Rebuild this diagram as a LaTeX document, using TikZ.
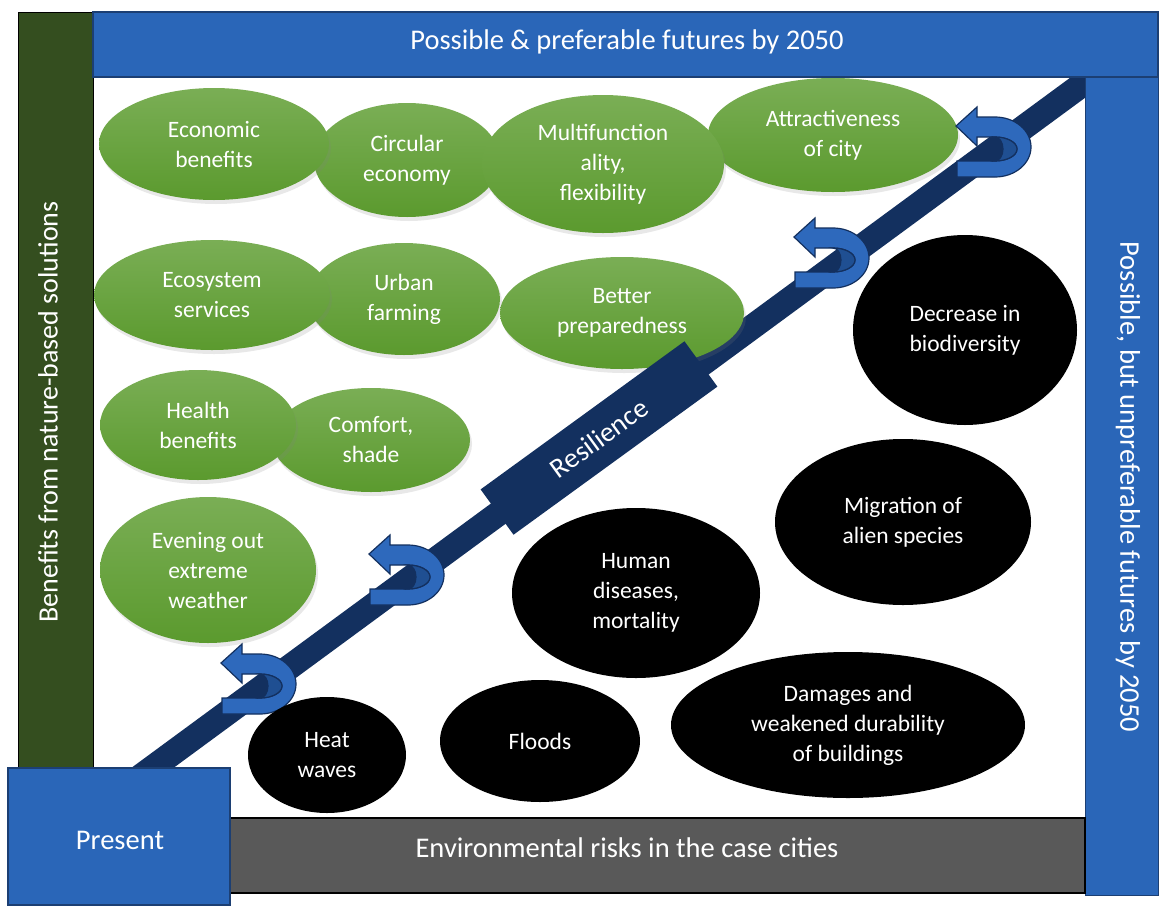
\documentclass[tikz,border=0pt]{standalone}
\usepackage{fontspec}
\setmainfont{Carlito}
\usetikzlibrary{shapes, shadows, positioning}

\definecolor{barblue}{HTML}{2A66B8}
\definecolor{edgeblue}{HTML}{1C3F73}
\definecolor{navy}{HTML}{13305F}
\definecolor{leafdark}{HTML}{344E1F}
\definecolor{greentop}{HTML}{7AAE55}
\definecolor{greenbot}{HTML}{5B9A2E}
\definecolor{riskgray}{HTML}{595959}
\definecolor{arrowblue}{HTML}{2E69BC}
\definecolor{arrowdeep}{HTML}{1F4F92}

\tikzset{
  benefit/.style={ellipse, inner sep=0pt, top color=greentop, bottom color=greenbot,
    text=white, align=center, font=\fontsize{23.5}{30}\selectfont,
    drop shadow={opacity=0.18, shadow xshift=2pt, shadow yshift=-4pt}},
  risk/.style={ellipse, inner sep=0pt, fill=black, text=white, align=center,
    font=\fontsize{23.5}{30}\selectfont},
  turnarrow/.pic={
    \filldraw[fill=arrowblue, draw=navy, line width=1.2pt]
      (-38,35) -- (0,35) arc[start angle=90, end angle=-90, x radius=36, y radius=30]
      -- (-18,-25) -- (-18,-35) -- (-39,-16) -- (-18,4) -- (-18,-5) -- (0,-5)
      arc[start angle=-90, end angle=90, x radius=22, y radius=12] -- (-38,19) -- cycle;
    \filldraw[fill=arrowdeep, draw=navy, line width=1.2pt]
      (0,-5) arc[start angle=-90, end angle=90, x radius=22, y radius=12]
      arc[start angle=90, end angle=-90, x radius=8, y radius=12] -- cycle;
  }
}

\begin{document}
\begin{tikzpicture}[x=1pt, y=-1pt]
  \useasboundingbox (0,0) rectangle (1159,905);
  \draw[black, line width=0.8pt, fill=white] (93,77) rectangle (1085,818);

  % resilience line
  \draw[navy, line width=25pt] (140,777) -- (1095,75);

  % benefits
  \node[benefit, minimum width=186pt, minimum height=114pt] (circular) at (407,160) {Circular\\economy};
  \node[benefit, minimum width=230pt, minimum height=112pt] (economic) at (214,144) {Economic\\benefits};
  \node[benefit, minimum width=250pt, minimum height=114pt] (attract) at (833,135) {Attractiveness\\of city};
  \node[benefit, minimum width=242pt, minimum height=138pt] (multi) at (603,164) {Multifunction\\ality,\\flexibility};
  \node[benefit, minimum width=192pt, minimum height=112pt] (urban) at (404,299) {Urban\\farming};
  \node[benefit, minimum width=236pt, minimum height=110pt] (ecosys) at (212,295) {Ecosystem\\services};
  \node[benefit, minimum width=244pt, minimum height=112pt] (prepared) at (622,313) {Better\\preparedness};
  \node[benefit, minimum width=198pt, minimum height=104pt] (comfort) at (371,440) {Comfort,\\shade};
  \node[benefit, minimum width=196pt, minimum height=110pt] (health) at (198,425) {Health\\benefits};
  \node[benefit, minimum width=216pt, minimum height=146pt] (evening) at (208,570) {Evening out\\extreme\\weather};

  \node[fill=navy, text=white, rotate=36, minimum width=252pt, minimum height=56pt,
    font=\fontsize{28}{30}\selectfont] (resil) at (599,438) {Resilience};

  \foreach \ax/\ay in {995/142, 833/253, 408/570, 260/679}
    \pic at (\ax,\ay) {turnarrow};

  % risks
  \node[risk, minimum width=224pt, minimum height=190pt] (biodiv) at (965,330) {Decrease in\\biodiversity};
  \node[risk, minimum width=256pt, minimum height=166pt] (alien) at (903,522) {Migration of\\alien species};
  \node[risk, minimum width=248pt, minimum height=170pt] (disease) at (636,593) {Human\\diseases,\\mortality};
  \node[risk, minimum width=354pt, minimum height=146pt] (damage) at (848,725) {Damages and\\weakened durability\\of buildings};
  \node[risk, minimum width=158pt, minimum height=116pt] (heat) at (327,755) {Heat\\waves};
  \node[risk, minimum width=200pt, minimum height=122pt] (floods) at (540,741) {Floods};

  % frame bars
  \draw[fill=leafdark, draw=black, line width=1pt] (18,12) rectangle (93,770);
  \node[rotate=90, text=white, font=\fontsize{28}{30}\selectfont] (benefits) at (48,412) {Benefits from nature-based solutions};
  \draw[fill=barblue, draw=edgeblue, line width=1.2pt] (93,12) rectangle (1158,77);
  \node[text=white, font=\fontsize{28.5}{30}\selectfont] (preferable) at (627,42) {Possible \& preferable futures by 2050};
  \draw[fill=barblue, draw=edgeblue, line width=1pt] (1085,77) rectangle (1158,895);
  \node[rotate=-90, text=white, font=\fontsize{28.5}{30}\selectfont] (unpreferable) at (1128,487) {Possible, but unpreferable futures by 2050};
  \draw[fill=riskgray, draw=black, line width=1.2pt] (230,818) rectangle (1085,893);
  \node[text=white, font=\fontsize{28.5}{30}\selectfont] (envrisks) at (627,848) {Environmental risks in the case cities};
  \draw[fill=barblue, draw=edgeblue, line width=1.2pt] (8,768) rectangle (230,905);
  \node[text=white, font=\fontsize{28.5}{30}\selectfont] (present) at (120,840) {Present};
\end{tikzpicture}
\end{document}
